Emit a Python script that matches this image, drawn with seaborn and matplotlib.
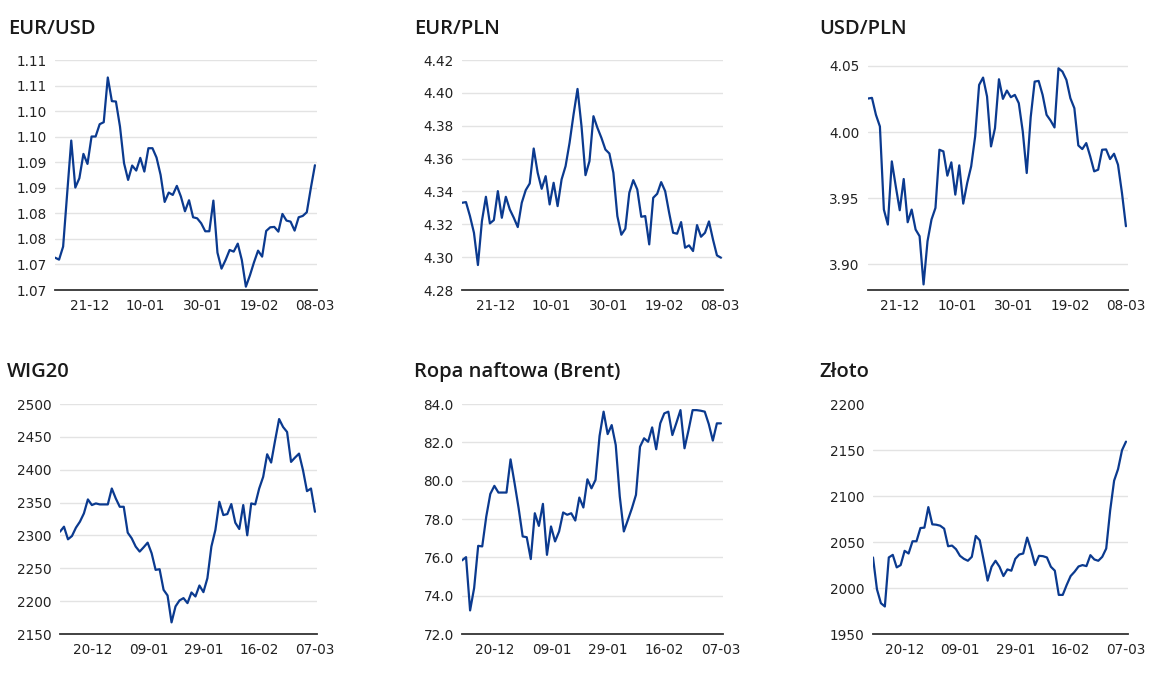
import numpy as np
import pandas as pd
import matplotlib
matplotlib.use("Agg")
import matplotlib.pyplot as plt
import seaborn as sns

# ---------------- data ----------------
eurusd = [1.07633, 1.07594, 1.07849, 1.08893, 1.09924, 1.09004, 1.09187, 1.09663, 1.09467, 1.10003,
          1.10003, 1.10244, 1.10283, 1.11158, 1.10695, 1.10688, 1.10198, 1.09480, 1.09154, 1.09435,
          1.09337, 1.09585, 1.09317, 1.09774, 1.09774, 1.09591, 1.09252, 1.08723, 1.08906, 1.08860,
          1.09037, 1.08828, 1.08540, 1.08756, 1.08423, 1.08403, 1.08305, 1.08149, 1.08149, 1.08749,
          1.07731, 1.07418, 1.07587, 1.07783, 1.07751, 1.07907, 1.07587, 1.07065, 1.07287, 1.07542,
          1.07770, 1.07653, 1.08155, 1.08227, 1.08234, 1.08142, 1.08488, 1.08358, 1.08338, 1.08162,
          1.08423, 1.08449, 1.08521, 1.08997, 1.09441]
eurpln = [4.33309, 4.33350, 4.32499, 4.31485, 4.29520, 4.32195, 4.33674, 4.32053, 4.32255, 4.34018,
          4.32397, 4.33674, 4.32904, 4.32397, 4.31830, 4.33309, 4.34079, 4.34484, 4.36612, 4.35133,
          4.34160, 4.34930, 4.33208, 4.34525, 4.33107, 4.34728, 4.35538, 4.36957, 4.38679, 4.40239,
          4.37970, 4.34991, 4.35842, 4.38578, 4.37869, 4.37261, 4.36551, 4.36308, 4.35133, 4.32499,
          4.31364, 4.31729, 4.33917, 4.34687, 4.34120, 4.32458, 4.32499, 4.30776, 4.33613, 4.33856,
          4.34566, 4.34018, 4.32701, 4.31485, 4.31425, 4.32134, 4.30573, 4.30715, 4.30371, 4.31951,
          4.31242, 4.31485, 4.32174, 4.31080, 4.30107, 4.29966]
usdpln = [4.02538, 4.02588, 4.01307, 4.00427, 3.94146, 3.93015, 3.97789, 3.95905, 3.94096, 3.96457,
          3.93191, 3.94146, 3.92638, 3.92136, 3.88492, 3.91759, 3.93392, 3.94271, 3.98668, 3.98543,
          3.96709, 3.97714, 3.95276, 3.97488, 3.94598, 3.96156, 3.97412, 3.99673, 4.03568, 4.04121,
          4.02689, 3.98920, 4.00302, 4.03995, 4.02513, 4.03141, 4.02638, 4.02814, 4.02186, 4.00050,
          3.96910, 4.01131, 4.03819, 4.03870, 4.02814, 4.01307, 4.00880, 4.00352, 4.04824, 4.04573,
          4.03945, 4.02563, 4.01809, 3.98995, 3.98719, 3.99171, 3.98166, 3.97035, 3.97161, 3.98668,
          3.98694, 3.97965, 3.98367, 3.97538, 3.95402, 3.92889]
wig20 = [2305.7, 2313.3, 2294.1, 2299.1, 2311.8, 2320.9, 2333.5, 2354.8, 2346.2, 2348.7,
         2347.2, 2347.2, 2347.2, 2371.4, 2356.3, 2343.6, 2343.6, 2304.2, 2295.6, 2283.0,
         2275.4, 2282.0, 2289.0, 2272.9, 2247.6, 2248.6, 2217.2, 2208.6, 2167.7, 2192.0,
         2201.1, 2204.6, 2197.0, 2213.2, 2207.1, 2223.8, 2213.7, 2234.9, 2283.0, 2308.2,
         2351.2, 2331.0, 2332.5, 2347.7, 2319.4, 2309.8, 2346.2, 2300.2, 2348.7, 2347.2,
         2371.4, 2389.1, 2423.5, 2410.9, 2444.7, 2477.1, 2465.0, 2457.4, 2411.9, 2418.5,
         2424.5, 2399.2, 2367.4, 2371.4, 2336.0]
brent = [75.84, 76.01, 73.23, 74.40, 76.60, 76.57, 78.13, 79.31, 79.73, 79.38,
         79.38, 79.38, 81.11, 79.86, 78.56, 77.09, 77.05, 75.91, 78.30, 77.64,
         78.79, 76.13, 77.61, 76.83, 77.35, 78.34, 78.22, 78.30, 77.92, 79.12,
         78.60, 80.07, 79.60, 80.04, 82.33, 83.60, 82.43, 82.90, 81.86, 79.17,
         77.35, 77.95, 78.56, 79.26, 81.77, 82.21, 82.03, 82.78, 81.64, 82.99,
         83.51, 83.60, 82.38, 83.02, 83.68, 81.69, 82.64, 83.68, 83.68, 83.65,
         83.60, 82.95, 82.09, 82.99, 82.99]
zloto = [2033.2, 1998.6, 1983.5, 1979.9, 2033.2, 2036.0, 2022.4, 2024.9, 2040.4, 2037.5,
         2050.8, 2050.8, 2065.2, 2065.6, 2087.9, 2069.2, 2068.8, 2067.7, 2064.5, 2045.4,
         2046.1, 2042.2, 2035.0, 2031.7, 2029.6, 2033.9, 2056.6, 2051.9, 2030.3, 2008.0,
         2023.1, 2029.6, 2023.1, 2013.0, 2020.2, 2018.8, 2031.7, 2036.4, 2037.5, 2054.8,
         2041.1, 2024.9, 2035.0, 2034.6, 2033.2, 2023.1, 2018.8, 1992.5, 1992.5, 2003.3,
         2013.0, 2017.7, 2023.4, 2024.9, 2023.8, 2035.7, 2031.0, 2029.6, 2033.9, 2042.9,
         2084.3, 2116.7, 2129.3, 2149.8, 2159.1]

titles = ["EUR/USD", "EUR/PLN", "USD/PLN", "WIG20", "Ropa naftowa (Brent)", "Złoto"]

xlabels_top = ["21-12", "10-01", "30-01", "19-02", "08-03"]
xlabels_bottom = ["20-12", "09-01", "29-01", "16-02", "07-03"]

eurusd_yticks = [1.070, 1.075, 1.080, 1.085, 1.090, 1.095, 1.100, 1.105, 1.110, 1.115]
eurusd_ylabels = ["1.07", "1.07", "1.08", "1.08", "1.09", "1.09", "1.10", "1.10", "1.11", "1.11"]
eurpln_yticks = [4.28, 4.30, 4.32, 4.34, 4.36, 4.38, 4.40, 4.42]
usdpln_yticks = [3.90, 3.95, 4.00, 4.05]
wig_yticks = [2150, 2200, 2250, 2300, 2350, 2400, 2450, 2500]
brent_yticks = [72.0, 74.0, 76.0, 78.0, 80.0, 82.0, 84.0]
zloto_yticks = [1950, 2000, 2050, 2100, 2150, 2200]

# ---------------- style ----------------
sns.set_theme(style="white")
plt.rcParams["font.family"] = ["DejaVu Sans"]

LINE = "#0b3a8f"
GRID = "#e3e3e3"
TXT = "#222222"

W, H = 1160, 674
fig = plt.figure(figsize=(W / 100, H / 100), dpi=100)


def rect(l, r, t, b):
    return [l / W, 1 - b / H, (r - l) / W, (b - t) / H]


panels = [
    dict(data=eurusd, rect=rect(55, 317, 60, 290), yt=eurusd_yticks, yl=eurusd_ylabels,
         ylim=(1.070, 1.115), xt=[8.6, 22.3, 36.3, 50.2, 64.0], xl=xlabels_top, fmt=None,
         title=titles[0], tx=8, ty=34),
    dict(data=eurpln, rect=rect(462, 723, 60, 290), yt=eurpln_yticks, yl=None,
         ylim=(4.28, 4.42), xt=[8.5, 22.5, 36.7, 50.7, 64.8], xl=xlabels_top, fmt="{:.2f}",
         title=titles[1], tx=414, ty=34),
    dict(data=usdpln, rect=rect(868, 1128, 60, 290), yt=usdpln_yticks, yl=None,
         ylim=(3.8807, 4.0545), xt=[8.1, 22.4, 36.7, 50.9, 65.0], xl=xlabels_top, fmt="{:.2f}",
         title=titles[2], tx=819, ty=34),
    dict(data=wig20, rect=rect(60, 317, 404, 634), yt=wig_yticks, yl=None,
         ylim=(2150, 2500), xt=[8.2, 22.2, 36.1, 50.0, 64.0], xl=xlabels_bottom, fmt="{:.0f}",
         title=titles[3], tx=7, ty=377),
    dict(data=brent, rect=rect(462, 723, 404, 634), yt=brent_yticks, yl=None,
         ylim=(72.0, 84.0), xt=[8.2, 22.1, 36.1, 50.0, 64.0], xl=xlabels_bottom, fmt="{:.1f}",
         title=titles[4], tx=414, ty=377),
    dict(data=zloto, rect=rect(873, 1128, 404, 634), yt=zloto_yticks, yl=None,
         ylim=(1950, 2200), xt=[8.0, 22.0, 36.0, 49.9, 63.9], xl=xlabels_bottom, fmt="{:.0f}",
         title=titles[5], tx=819, ty=377),
]

for i, p in enumerate(panels):
    ax = fig.add_axes(p["rect"])
    vals = p["data"]
    df = pd.DataFrame({"x": np.arange(len(vals)), "y": vals})
    sns.lineplot(data=df, x="x", y="y", ax=ax, color=LINE, linewidth=1.6)
    n = len(vals)
    ax.set_xlim(0, (n - 1) * 1.008)
    ax.set_ylim(*p["ylim"])
    ax.set_yticks(p["yt"])
    if p["yl"] is not None:
        ax.set_yticklabels(p["yl"])
    else:
        ax.set_yticklabels([p["fmt"].format(v) for v in p["yt"]])
    ax.set_xticks(p["xt"])
    ax.set_xticklabels(p["xl"])
    ax.set_xlabel("")
    ax.set_ylabel("")
    ax.grid(axis="y", color=GRID, linewidth=1.0)
    ax.grid(axis="x", visible=False)
    ax.set_axisbelow(True)
    for s in ["left", "right", "top"]:
        ax.spines[s].set_visible(False)
    ax.spines["bottom"].set_color("#333333")
    ax.spines["bottom"].set_linewidth(1.3)
    ax.tick_params(axis="y", length=0, pad=6, labelsize=9.8, labelcolor=TXT)
    ax.tick_params(axis="x", length=5, width=1.0, color="#333333", direction="inout",
                   pad=4, labelsize=9.8, labelcolor=TXT)
    if i == 5:
        # top label without gridline
        ax.get_ygridlines()[-1].set_visible(False)
    fig.text(p["tx"] / W, 1 - p["ty"] / H, p["title"], ha="left", va="baseline",
             fontsize=14.5, fontweight="semibold", color="#1a1a1a",
             family=["Open Sans", "DejaVu Sans"])

fig.savefig("out.png", dpi=100, facecolor="white")
